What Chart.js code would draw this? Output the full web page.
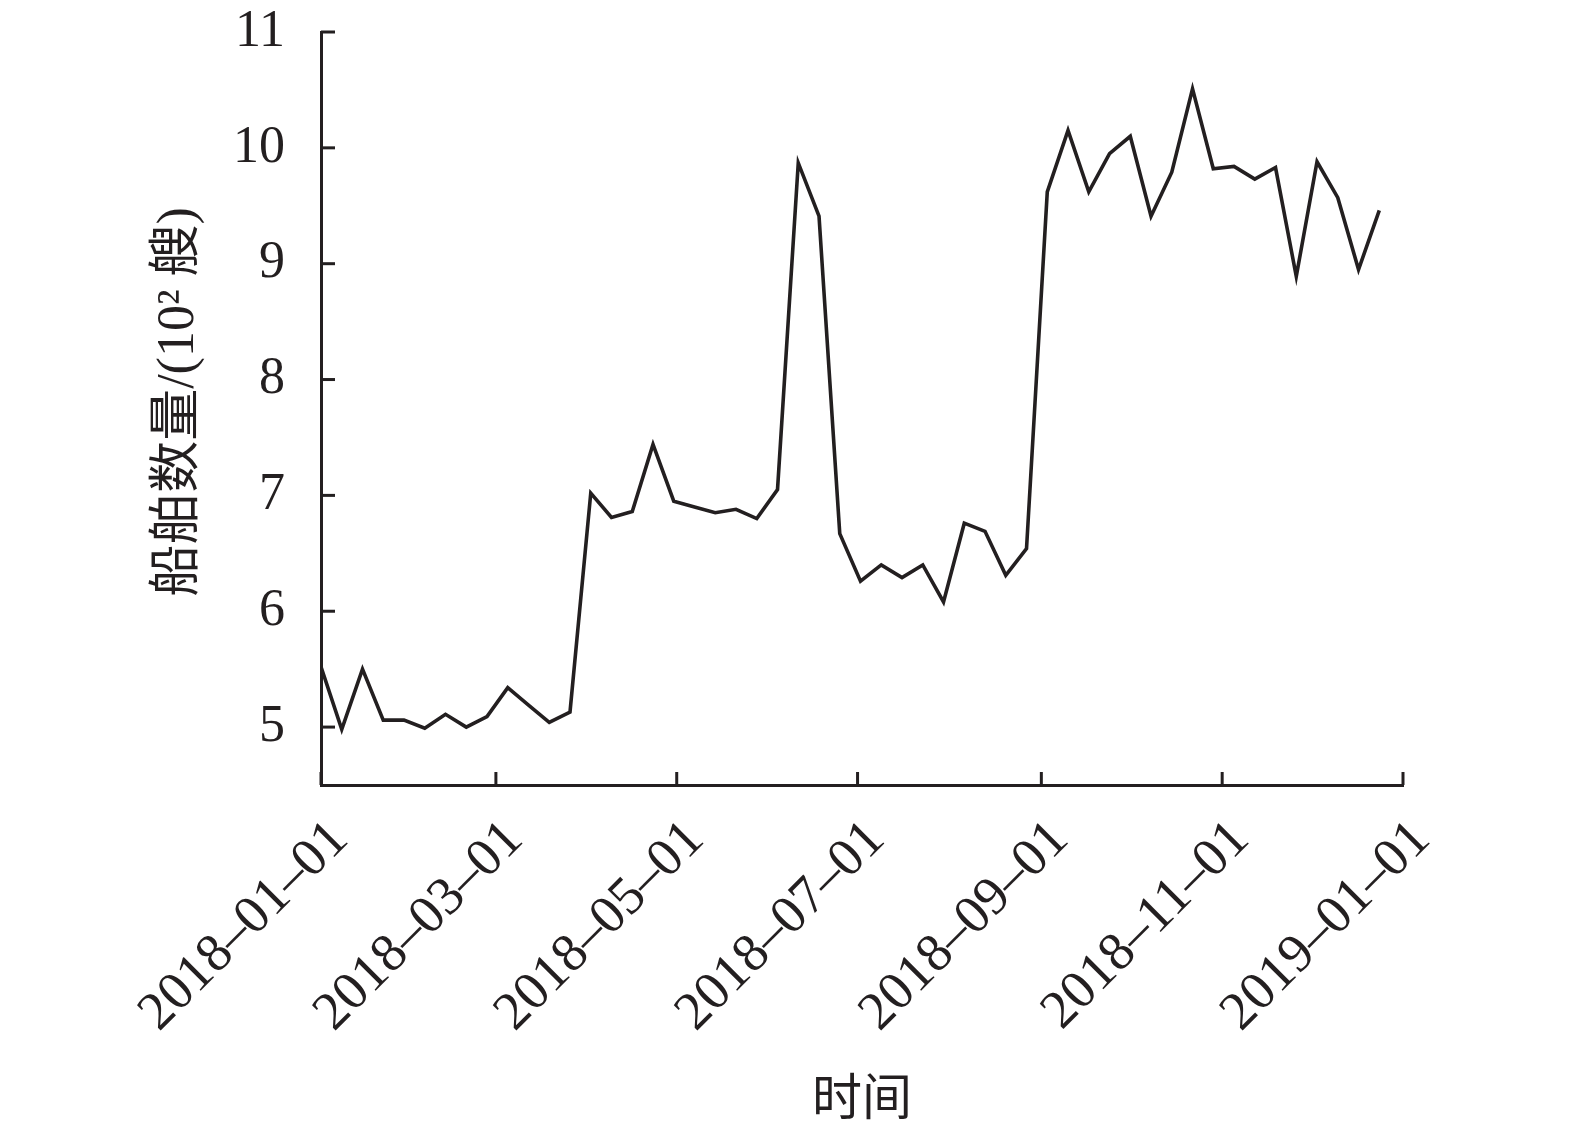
<!DOCTYPE html>
<html>
<head>
<meta charset="utf-8">
<script src="https://cdn.jsdelivr.net/npm/chart.js@4.4.0/dist/chart.umd.min.js"></script>
<style>
  html, body { margin: 0; padding: 0; background: #fff; }
  #wrap { width: 1575px; height: 1138px; }
</style>
</head>
<body>
<div id="wrap"><canvas id="shipChart" width="1575" height="1138"></canvas></div>
<script>
// weekly ship counts (10^2 ships), first week starts 2018-01-01
const startDate = '2018-01-01';
const shipCounts = [
  5.52, 4.98, 5.50, 5.06, 5.06, 4.99, 5.11, 5.00, 5.09, 5.34,
  5.19, 5.04, 5.13, 7.02, 6.81, 6.86, 7.44, 6.95, 6.90, 6.85,
  6.88, 6.80, 7.05, 9.87, 9.41, 6.67, 6.26, 6.40, 6.29, 6.40,
  6.08, 6.76, 6.69, 6.31, 6.54, 9.62, 10.15, 9.62, 9.95, 10.10,
  9.41, 9.79, 10.51, 9.82, 9.84, 9.73, 9.83, 8.89, 9.88, 9.57,
  8.95, 9.46
];
const tickDates = ['2018-01-01', '2018-03-01', '2018-05-01', '2018-07-01', '2018-09-01', '2018-11-01', '2019-01-01'];
const yTicks = [5, 6, 7, 8, 9, 10, 11];

const DAY = 86400000;
const t0 = Date.parse(startDate);
const dayOf = (d) => Math.round((Date.parse(d) - t0) / DAY);
const tickDays = tickDates.map(dayOf);

const points = shipCounts.map((v, i) => ({ x: i * 7, y: v }));

const ink = '#231f20';
const serif = '"Liberation Serif", "Noto Sans CJK SC", serif';

// ticks drawn pointing into the plot
const innerTicks = {
  id: 'innerTicks',
  afterDraw(chart) {
    const ctx = chart.ctx;
    const area = chart.chartArea;
    const xs = chart.scales.x;
    const ys = chart.scales.y;
    ctx.save();
    ctx.strokeStyle = ink;
    ctx.lineWidth = 3;
    yTicks.forEach(v => {
      const py = ys.getPixelForValue(v);
      ctx.beginPath();
      ctx.moveTo(area.left, py);
      ctx.lineTo(area.left + 14, py);
      ctx.stroke();
    });
    tickDays.forEach(v => {
      const px = xs.getPixelForValue(v);
      ctx.beginPath();
      ctx.moveTo(px, area.bottom);
      ctx.lineTo(px, area.bottom - 13);
      ctx.stroke();
    });
    ctx.restore();
  }
};

new Chart(document.getElementById('shipChart'), {
  type: 'line',
  data: {
    datasets: [{
      data: points,
      borderColor: ink,
      borderWidth: 3.6,
      pointRadius: 0,
      tension: 0,
      fill: false
    }]
  },
  options: {
    responsive: false,
    animation: false,
    layout: { padding: { top: 32, right: 172, left: 0, bottom: 0 } },
    plugins: { legend: { display: false }, tooltip: { enabled: false } },
    scales: {
      x: {
        type: 'linear',
        min: 0,
        max: 365,
        afterBuildTicks: (s) => { s.ticks = tickDays.map(v => ({ value: v })); },
        afterFit: (s) => { s.height = 353; s.paddingLeft = 0; s.paddingRight = 0; },
        grid: { display: false, drawTicks: false },
        border: { color: ink, width: 3 },
        ticks: {
          autoSkip: false,
          minRotation: 45,
          maxRotation: 45,
          padding: 8,
          labelOffset: 19,
          color: ink,
          font: { family: serif, size: 54, lineHeight: 2.0 },
          callback: (v) => {
            const i = tickDays.indexOf(v);
            return i < 0 ? '' : tickDates[i].replace(/-/g, '\u2013');
          }
        },
        title: {
          display: true,
          text: '时间',
          color: ink,
          font: { family: serif, size: 50 },
          padding: { top: 0, bottom: 6 }
        }
      },
      y: {
        min: 4.5,
        max: 11,
        afterBuildTicks: (s) => { s.ticks = yTicks.map(v => ({ value: v })); },
        afterFit: (s) => { s.width = 321; s.paddingTop = 0; s.paddingBottom = 0; },
        grid: { display: false, drawTicks: false },
        border: { color: ink, width: 3 },
        ticks: {
          padding: 36,
          color: ink,
          font: { family: serif, size: 52 }
        },
        title: {
          display: true,
          text: ' 船舶数量/(10² 艘)',
          color: ink,
          font: { family: serif, size: 52 },
          padding: { top: 148, bottom: 0 }
        }
      }
    }
  },
  plugins: [innerTicks]
});
</script>
</body>
</html>
